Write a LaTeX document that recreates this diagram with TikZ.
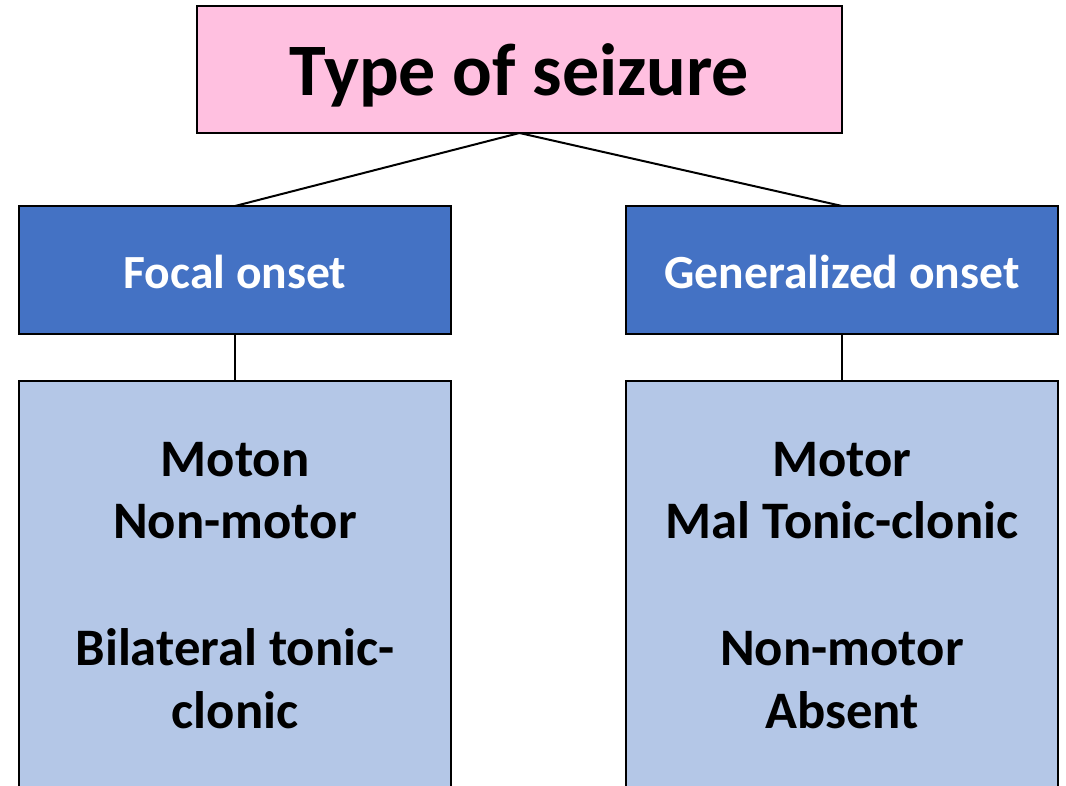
\documentclass[tikz,border=0pt]{standalone}
\usepackage{fontspec}
\setmainfont{Carlito}
\definecolor{pinkc}{HTML}{FFC0E0}
\definecolor{bluec}{HTML}{4472C4}
\definecolor{lightc}{HTML}{B4C7E7}
\begin{document}
\begin{tikzpicture}[x=1pt,y=-1pt,
  box/.style={draw=black,line width=2pt,inner sep=0pt,outer sep=0pt},
  conn/.style={draw=black,line width=2pt},
  titletxt/.style={anchor=base,inner sep=0pt,font=\fontsize{74}{89}\selectfont\bfseries},
  headtxt/.style={anchor=base,inner sep=0pt,text=white,font=\fontsize{47.6}{57}\selectfont\bfseries},
  bodytxt/.style={anchor=base,inner sep=0pt,font=\fontsize{52.7}{63}\selectfont\bfseries}]
\useasboundingbox (0,0) rectangle (1066,785);
\clip (0,0) rectangle (1066,785);
\node[box,fill=pinkc,minimum width=645pt,minimum height=127pt] (top) at (519.5,69.5) {};
\node[box,fill=bluec,minimum width=432pt,minimum height=128pt] (focal) at (235,270) {};
\node[box,fill=bluec,minimum width=432pt,minimum height=128pt] (gen) at (842,270) {};
\node[box,fill=lightc,minimum width=432pt,minimum height=439pt] (fl) at (235,600.5) {};
\node[box,fill=lightc,minimum width=432pt,minimum height=439pt] (gl) at (842,600.5) {};
\draw[conn] (top.south) -- (focal.north);
\draw[conn] (top.south) -- (gen.north);
\draw[conn] (focal.south) -- (fl.north);
\draw[conn] (gen.south) -- (gl.north);
\node[titletxt] (tt) at (519.5,95) {Type of seizure};
\node[headtxt] (ft) at (235,288) {Focal onset};
\node[headtxt] (gt) at (842,288) {Generalized onset};
\node[bodytxt] (l1) at (235,476) {Moton};
\node[bodytxt] (l2) at (235,538) {Non-motor};
\node[bodytxt] (l3) at (235,665) {Bilateral tonic-};
\node[bodytxt] (l4) at (235,728) {clonic};
\node[bodytxt] (r1) at (842,476) {Motor};
\node[bodytxt] (r2) at (842,538) {Mal Tonic-clonic};
\node[bodytxt] (r3) at (842,665) {Non-motor};
\node[bodytxt] (r4) at (842,728) {Absent};
\end{tikzpicture}
\end{document}
